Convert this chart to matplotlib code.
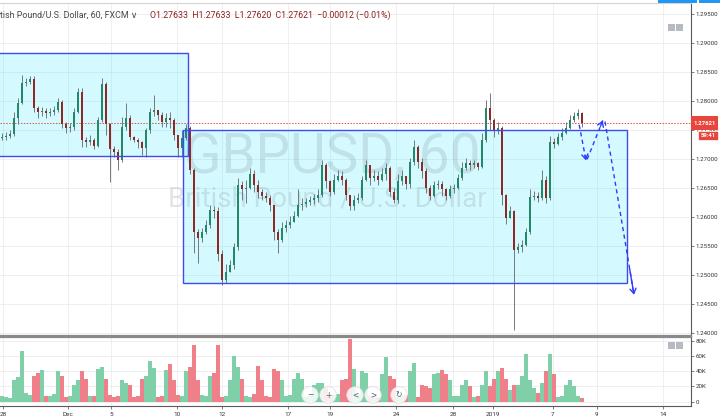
import matplotlib
matplotlib.use("Agg")
import matplotlib.pyplot as plt
import matplotlib.transforms as mtransforms
from matplotlib.patches import Rectangle

plt.rcParams['font.family'] = ['Roboto', 'DejaVu Sans']

# ---------------- data (4-hour style aggregation) ----------------
open_first = 1.2737
close = [
    1.2739, 1.2741, 1.2744, 1.2772, 1.2797, 1.2832, 1.2834, 1.2838, 1.2789, 1.2782,
    1.2784, 1.2780, 1.2782, 1.2785, 1.2799, 1.2760, 1.2754, 1.2756, 1.2782, 1.2816,
    1.2734, 1.2729, 1.2734, 1.2723, 1.2768, 1.2830, 1.2760, 1.2717, 1.2713, 1.2699,
    1.2756, 1.2772, 1.2739, 1.2734, 1.2730, 1.2720, 1.2751, 1.2782, 1.2785, 1.2777,
    1.2765, 1.2772, 1.2768, 1.2742, 1.2720, 1.2737, 1.2754, 1.2682, 1.2575, 1.2565,
    1.2574, 1.2586, 1.2613, 1.2610, 1.2536, 1.2492, 1.2506, 1.2517, 1.2548, 1.2655,
    1.2648, 1.2651, 1.2674, 1.2656, 1.2644, 1.2637, 1.2634, 1.2622, 1.2575, 1.2561,
    1.2582, 1.2586, 1.2592, 1.2603, 1.2622, 1.2623, 1.2627, 1.2630, 1.2634, 1.2639,
    1.2691, 1.2662, 1.2644, 1.2665, 1.2672, 1.2665, 1.2639, 1.2620, 1.2630, 1.2634,
    1.2665, 1.2691, 1.2668, 1.2672, 1.2665, 1.2675, 1.2685, 1.2644, 1.2630, 1.2662,
    1.2672, 1.2658, 1.2696, 1.2722, 1.2696, 1.2679, 1.2651, 1.2637, 1.2655, 1.2658,
    1.2648, 1.2637, 1.2648, 1.2651, 1.2668, 1.2685, 1.2694, 1.2691, 1.2693, 1.2687,
    1.2734, 1.2789, 1.2768, 1.2751, 1.2754, 1.2639, 1.2599, 1.2610, 1.2544, 1.2548,
    1.2553, 1.2575, 1.2635, 1.2637, 1.2634, 1.2665, 1.2634, 1.2730, 1.2727, 1.2739,
    1.2746, 1.2754, 1.2768, 1.2775, 1.2780, 1.27621]
high = [
    1.2746, 1.2747, 1.2751, 1.2782, 1.2806, 1.2846, 1.2841, 1.2844, 1.2844, 1.2792,
    1.2791, 1.2789, 1.2789, 1.2792, 1.2806, 1.2803, 1.2765, 1.2763, 1.2789, 1.2823,
    1.2823, 1.2739, 1.2742, 1.2737, 1.2773, 1.2841, 1.2834, 1.2762, 1.2723, 1.2717,
    1.2773, 1.2797, 1.2777, 1.2741, 1.2737, 1.2732, 1.2754, 1.2789, 1.2811, 1.2785,
    1.2782, 1.2779, 1.2782, 1.2772, 1.2742, 1.2751, 1.2761, 1.2758, 1.2685, 1.2579,
    1.2582, 1.2596, 1.2622, 1.2620, 1.2617, 1.2544, 1.2520, 1.2527, 1.2556, 1.2668,
    1.2662, 1.2665, 1.2685, 1.2682, 1.2665, 1.2648, 1.2644, 1.2639, 1.2622, 1.2579,
    1.2592, 1.2596, 1.2603, 1.2610, 1.2648, 1.2634, 1.2634, 1.2637, 1.2641, 1.2648,
    1.2699, 1.2694, 1.2665, 1.2675, 1.2682, 1.2679, 1.2668, 1.2639, 1.2639, 1.2642,
    1.2672, 1.2699, 1.2691, 1.2682, 1.2679, 1.2685, 1.2694, 1.2689, 1.2651, 1.2675,
    1.2682, 1.2672, 1.2703, 1.2734, 1.2724, 1.2703, 1.2685, 1.2655, 1.2662, 1.2665,
    1.2662, 1.2651, 1.2655, 1.2658, 1.2675, 1.2696, 1.2703, 1.2699, 1.2699, 1.2696,
    1.2746, 1.2803, 1.2815, 1.2772, 1.2765, 1.2758, 1.2641, 1.2620, 1.2613, 1.2556,
    1.2561, 1.2582, 1.2648, 1.2646, 1.2644, 1.2682, 1.2672, 1.2741, 1.2737, 1.2746,
    1.2754, 1.2765, 1.2777, 1.2782, 1.2787, 1.2782]
low = [
    1.2734, 1.2734, 1.2737, 1.2741, 1.2761, 1.2796, 1.2827, 1.2830, 1.2782, 1.2772,
    1.2775, 1.2772, 1.2775, 1.2777, 1.2782, 1.2754, 1.2746, 1.2747, 1.2751, 1.2779,
    1.2722, 1.2722, 1.2725, 1.2718, 1.2722, 1.2765, 1.2742, 1.2660, 1.2704, 1.2682,
    1.2696, 1.2751, 1.2734, 1.2729, 1.2720, 1.2708, 1.2704, 1.2746, 1.2775, 1.2768,
    1.2756, 1.2756, 1.2754, 1.2734, 1.2704, 1.2704, 1.2734, 1.2674, 1.2539, 1.2522,
    1.2558, 1.2572, 1.2582, 1.2599, 1.2524, 1.2484, 1.2486, 1.2506, 1.2510, 1.2544,
    1.2630, 1.2625, 1.2648, 1.2644, 1.2634, 1.2630, 1.2627, 1.2610, 1.2561, 1.2539,
    1.2558, 1.2575, 1.2582, 1.2592, 1.2601, 1.2613, 1.2618, 1.2622, 1.2623, 1.2627,
    1.2635, 1.2651, 1.2637, 1.2641, 1.2662, 1.2655, 1.2630, 1.2613, 1.2613, 1.2625,
    1.2630, 1.2662, 1.2656, 1.2662, 1.2655, 1.2662, 1.2665, 1.2637, 1.2625, 1.2625,
    1.2656, 1.2648, 1.2651, 1.2691, 1.2685, 1.2668, 1.2642, 1.2630, 1.2635, 1.2648,
    1.2637, 1.2630, 1.2634, 1.2642, 1.2648, 1.2665, 1.2682, 1.2682, 1.2685, 1.2682,
    1.2685, 1.2730, 1.2751, 1.2739, 1.2744, 1.2622, 1.2589, 1.2599, 1.2406, 1.2539,
    1.2541, 1.2551, 1.2572, 1.2630, 1.2627, 1.2630, 1.2625, 1.2630, 1.2720, 1.2725,
    1.2734, 1.2744, 1.2752, 1.2765, 1.2770, 1.2756]
volume_k = [
    8, 6, 5, 28, 32, 66, 12, 9, 34, 38,
    41, 8, 7, 10, 40, 34, 6, 7, 22, 28,
    40, 30, 8, 7, 43, 45, 30, 9, 6, 8,
    28, 25, 22, 6, 7, 30, 34, 53, 44, 6,
    8, 42, 50, 28, 9, 8, 40, 45, 74, 28,
    9, 8, 34, 38, 74, 6, 7, 28, 60, 45,
    30, 8, 6, 10, 47, 28, 7, 6, 43, 40,
    28, 8, 9, 30, 37, 30, 6, 7, 22, 25,
    25, 18, 6, 9, 10, 28, 30, 82, 43, 10,
    40, 37, 8, 7, 6, 36, 58, 34, 30, 8,
    7, 9, 40, 51, 6, 22, 20, 18, 36, 38,
    42, 36, 28, 8, 7, 22, 28, 20, 6, 8,
    22, 40, 20, 30, 40, 44, 30, 15, 22, 22,
    34, 62, 28, 18, 12, 24, 40, 62, 36, 6,
    7, 22, 28, 20, 8, 5]

date_tick_pos = [0.25, 16.5, 27.25, 43.75, 55, 71.5, 82, 98.5, 112.75, 122.75, 137.75, 148.75, 165.25]
date_tick_lbl = ["28", "Dec", "5", "10", "12", "17", "19", "24", "28", "2019", "7", "9", "14"]
price_ticks = [1.240, 1.245, 1.250, 1.255, 1.260, 1.265, 1.270, 1.275, 1.280, 1.285, 1.290, 1.295]
vol_ticks = [0, 20000, 40000, 60000, 80000]
vol_tick_lbl = ["0", "20K", "40K", "60K", "80K"]

# drawn zones: (x_start, x_end, low_price, high_price)
zones = [(-5, 46.5, 1.27061, 1.28836), (45.25, 156.25, 1.24871, 1.27500)]
# projected path drawn as dashed arrows: (x0, p0, x1, p1)
arrows = [(144.3, 1.27595, 146.0, 1.26980),
          (146.3, 1.27000, 150.2, 1.27670),
          (150.75, 1.27652, 158.0, 1.24664)]

symbol_name = "tish Pound/U.S. Dollar, 60, FXCM"
hdr_o, hdr_h, hdr_l, hdr_c = 1.27633, 1.27633, 1.27620, 1.27621
hdr_chg, hdr_pct = -0.00012, -0.01
countdown = "59:41"

# ---------------- figure ----------------
W, H = 720, 420
fig = plt.figure(figsize=(W / 100, H / 100), dpi=100)
fig.patch.set_facecolor("white")


def fx(px):
    return px / W


def fy(py):
    return 1 - py / H


ax = fig.add_axes([0, fy(336), fx(691), fy(3) - fy(336)])
axv = fig.add_axes([0, fy(406), fx(691), fy(337) - fy(406)])

n = len(close)
idx = list(range(n))
opens = [open_first] + close[:-1]
up = [c >= o for o, c in zip(opens, close)]

x_lim = (-0.5, 172.25)
for a in (ax, axv):
    a.set_xlim(*x_lim)
    a.set_xticks(date_tick_pos)
    a.grid(True, color="#ececec", lw=0.6, zorder=0)
    a.set_axisbelow(True)
    a.spines["left"].set_visible(False)
    a.spines["right"].set_color("#5a5a5a")
    a.spines["right"].set_linewidth(0.8)
    a.yaxis.tick_right()
    a.tick_params(axis="y", direction="out", length=2.5, width=0.6, color="#666",
                  labelsize=4.4, labelcolor="#333", pad=1.0)

ax.set_ylim(1.23953, 1.29695)
ax.set_yticks(price_ticks)
ax.set_yticklabels([f"{t:.5f}" for t in price_ticks])
ax.tick_params(axis="x", length=0, labelbottom=False)
ax.spines["top"].set_color("#d4d4d4")
ax.spines["top"].set_linewidth(0.8)
ax.spines["bottom"].set_color("#8a8a8a")
ax.spines["bottom"].set_linewidth(1.6)

axv.set_ylim(-5640, 84850)
axv.set_yticks(vol_ticks)
axv.set_yticklabels(vol_tick_lbl)
axv.set_xticklabels(date_tick_lbl)
axv.tick_params(axis="x", direction="out", length=2.5, width=0.6, color="#666",
                labelsize=4.6, labelcolor="#333", pad=1.5)
axv.spines["top"].set_color("#8a8a8a")
axv.spines["top"].set_linewidth(1.6)
axv.spines["bottom"].set_color("#5a5a5a")
axv.spines["bottom"].set_linewidth(0.8)

# zones
zone_fill = "#00e5ff"
zone_edge = "#3d4cf2"
for x0, x1, lo, hi in zones:
    ax.add_patch(Rectangle((x0, lo), x1 - x0, hi - lo, facecolor=zone_fill, alpha=0.17,
                           edgecolor="none", zorder=1))
    ax.add_patch(Rectangle((x0, lo), x1 - x0, hi - lo, fill=False, edgecolor=zone_edge,
                           lw=1.0, zorder=6))

# watermark
ax.text(82.5, 1.2677, "GBPUSD, 60", ha="center", va="baseline", fontsize=39.5,
        color="#7d8b93", alpha=0.22, zorder=2)
ax.text(81.25, 1.2618, "British Pound / U.S. Dollar", ha="center", va="baseline", fontsize=20,
        color="#7d8b93", alpha=0.22, zorder=2)

# last price line
ax.axhline(close[-1], color="#e0534a", lw=0.7, ls=(0, (1.5, 1.5)), zorder=2)

# candles
up_col, dn_col, wick_col = "#23876a", "#8e2a26", "#74787c"
ax.vlines(idx, low, high, color=wick_col, lw=0.7, zorder=3)
ax.bar(idx, [c - o for o, c in zip(opens, close)], bottom=opens, width=0.6,
       color=[up_col if u else dn_col for u in up], lw=0, zorder=4)

# volume
axv.bar(idx, [v * 1000 for v in volume_k], width=0.85,
        color=["#7fd0a8" if u else "#ef7f88" for u in up], lw=0, zorder=2)

# dashed projection arrows
arrow_col = "#2b3cff"
for x0, p0, x1, p1 in arrows:
    ax.plot([x0, x1], [p0, p1], color=arrow_col, lw=1.0, ls=(0, (3, 2.5)), zorder=7)
    bx, bp = x1 - 0.15 * (x1 - x0), p1 - 0.15 * (p1 - p0)
    ax.annotate("", xy=(x1, p1), xytext=(bx, bp),
                arrowprops=dict(arrowstyle="->,head_length=0.35,head_width=0.22",
                                color=arrow_col, lw=1.0, shrinkA=0, shrinkB=0), zorder=7)

# last price label + countdown on the price scale
trans = mtransforms.blended_transform_factory(ax.transAxes, ax.transData)
px_price = 0.00017241
ax.add_patch(Rectangle((1.0, close[-1] - 7 * px_price), 27 / 691, 14 * px_price,
                       transform=trans, facecolor="#e8453c", edgecolor="none",
                       clip_on=False, zorder=8))
ax.text(1.0 + 13.5 / 691, close[-1], f"{close[-1]:.5f}", transform=trans, ha="center",
        va="center", fontsize=4.3, color="white", fontweight="bold", clip_on=False, zorder=9)
ax.add_patch(Rectangle((1.0 + 7 / 691, close[-1] - 17 * px_price), 20 / 691, 9.5 * px_price,
                       transform=trans, facecolor="#e8453c", edgecolor="white", lw=0.5,
                       clip_on=False, zorder=8))
ax.text(1.0 + 17 / 691, close[-1] - 12.2 * px_price, countdown, transform=trans,
        ha="center", va="center", fontsize=4.2, color="white", fontweight="bold",
        clip_on=False, zorder=9)

# header legend
fig.text(0.0, fy(15), symbol_name + " \u2228", fontsize=6.4, color="#4a4a4a",
         va="center", ha="left")
hdr = (f"O{hdr_o:.5f}  H{hdr_h:.5f}  L{hdr_l:.5f}  C{hdr_c:.5f}  "
       f"\u2212{abs(hdr_chg):.5f} (\u2212{abs(hdr_pct):.2f}%)")
fig.text(fx(150), fy(15), hdr, fontsize=6.3, color="#8b1f1f", va="center", ha="left")

# top-right blue toolbar strip
fig.add_artist(Rectangle((fx(658), fy(3)), fx(39), 3 / H, transform=fig.transFigure,
                         facecolor="#2196f3", edgecolor="none"))
fig.add_artist(Rectangle((fx(699), fy(3)), fx(21), 3 / H, transform=fig.transFigure,
                         facecolor="#2196f3", edgecolor="none"))

# small pane buttons
for ytop in (24, 342):
    for xl in (668, 676):
        fig.add_artist(Rectangle((fx(xl), fy(ytop + 7)), fx(7), 7 / H,
                                 transform=fig.transFigure, facecolor="#b6bac2",
                                 edgecolor="none"))

# navigation buttons
for px_x, glyph in [(310, "\u2212"), (328, "+"), (355, "<"), (373, ">"), (399, "\u21bb")]:
    fig.text(fx(px_x), fy(395), glyph, ha="center", va="center", fontsize=5.5, color="#50606e",
             family=["DejaVu Sans"],
             bbox=dict(boxstyle="circle,pad=0.5", fc="white", ec="#d8d8d8", lw=0.5, alpha=0.85))

fig.savefig("out.png", dpi=100)
